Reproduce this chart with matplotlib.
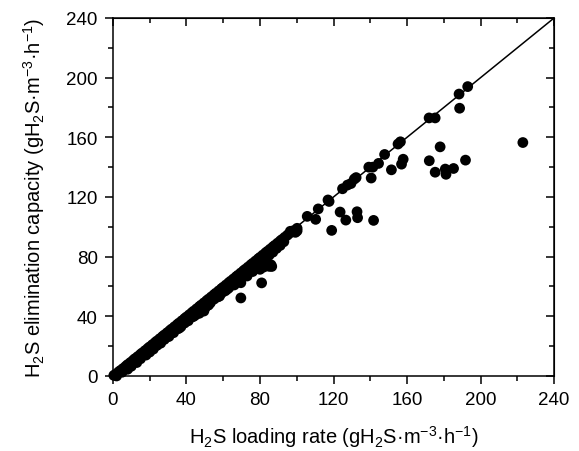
import matplotlib
matplotlib.use("Agg")
import matplotlib.pyplot as plt
from matplotlib.ticker import MultipleLocator

# dense band along the 1:1 line (loading rate, elimination capacity)
band_load = [0.5, 1.5, 3, 4, 5.5, 7, 8, 9.5, 11, 12, 13.5, 15, 16, 17.5, 19, 20,
             21.5, 23, 24, 25.5, 27, 28, 29.5, 31, 32, 33.5, 35, 36, 37.5, 39, 40,
             41.5, 43, 44, 45.5, 47, 48, 49.5, 51, 52, 53.5, 55, 56, 57.5, 59, 60,
             61.5, 63, 64, 65.5, 67, 68, 69.5, 71, 72, 73.5, 75, 76, 77.5, 79, 80,
             81.5, 83, 84, 85.5, 87, 88, 89.5, 91, 92, 93.5, 95, 96.5, 98]
band_ec = [0.4, 1.2, 2.6, 3.6, 5, 6.5, 7.6, 9, 10.5, 11.6, 13, 14.5, 15.5, 17, 18.5, 19.5,
           21, 22.5, 23.5, 25, 26.5, 27.5, 29, 30.5, 31.5, 33, 34.5, 35.5, 37, 38.5, 39.5,
           41, 42.5, 43.5, 45, 46.5, 47.5, 49, 50.5, 51.5, 53, 54.5, 55.5, 57, 58.5, 59.5,
           61, 62.5, 63.5, 65, 66.5, 67.5, 69, 70.5, 71.5, 73, 74.5, 75.5, 77, 78.5, 79.5,
           81, 82.5, 83.5, 85, 86.5, 87.5, 89, 90.5, 91.5, 93, 94.5, 96, 97.3]

# points just under the band
under_load = [2, 5, 8, 10, 13, 15, 18, 20, 22, 24, 26, 28, 30.5, 33, 35, 37, 39, 41, 43,
              45, 47, 49.5, 51, 53, 55, 57, 59, 61, 63, 65, 67, 69, 71, 73, 75, 77, 79,
              81, 83, 85, 87, 89, 91, 93, 47, 50, 30, 36, 58, 62, 73, 76, 80, 82, 84,
              85, 86, 44, 52, 66]
under_ec = [0, 2.5, 4.5, 6.5, 9, 11.5, 14, 16, 18, 20.5, 22, 24.5, 26.5, 29, 31.5, 33,
            35.5, 37, 39.5, 41, 43.5, 43.5, 47, 49, 51.5, 53, 55.5, 57, 59, 61.5, 63, 65,
            67.5, 69, 71, 73, 75, 77, 79, 81, 83, 85.5, 87.5, 90, 42, 45.5, 26.5, 32,
            53.5, 58, 67, 70, 71.5, 73, 75, 73.5, 74.5, 40, 47.5, 61]

# sparse points near the line above ~100
line_load = [100.2, 105.7, 96.5, 111.7, 117, 117.6, 124.9, 127.6, 129.5, 131.3, 132.3,
             139.2, 141.4, 144.5, 147.8, 155.1, 156.4, 172, 175.3, 188.3, 193]
line_ec = [99, 107, 97, 112, 118, 117, 125.5, 128, 129, 132, 133,
           140, 140, 142.5, 148.5, 155.5, 157, 173, 173, 189, 194]

# scattered points well below the line
low_load = [188.6, 178, 191.8, 172.1, 175.3, 180.8, 185.3, 181.2, 157.9, 157, 151.5,
            140.5, 123.6, 126.7, 132.8, 133.1, 141.8, 119, 110.3, 99.3, 80.9, 69.6,
            69.6, 86.4, 81, 223, 100.2]
low_ec = [179.5, 153.6, 144.7, 144.3, 136.6, 138.7, 139.1, 135.2, 145.3, 142, 138.2,
          132.7, 109.9, 104.5, 110.1, 106.1, 104.3, 97.6, 105, 96.3, 62.4, 52.3,
          62.5, 73.4, 73, 156.5, 97.3]

ticks = [0, 40, 80, 120, 160, 200, 240]

plt.rcParams['font.family'] = ['Liberation Sans', 'DejaVu Sans']
plt.rcParams['mathtext.fontset'] = 'custom'
plt.rcParams['mathtext.rm'] = 'Liberation Sans'
plt.rcParams['mathtext.it'] = 'Liberation Sans:italic'
plt.rcParams['mathtext.default'] = 'regular'

fig = plt.figure(figsize=(5.79, 4.52), dpi=100)
ax = fig.add_axes([0.195, 0.166, 0.762, 0.792])

ax.plot([0, 240], [0, 240], color='black', lw=1.1, zorder=2)
for xs, ys in [(band_load, band_ec), (under_load, under_ec),
               (line_load, line_ec), (low_load, low_ec)]:
    ax.scatter(xs, ys, s=60, color='black', edgecolors='none', zorder=3, clip_on=False)

ax.set_xlim(0, 240)
ax.set_ylim(0, 240)
ax.set_xticks(ticks)
ax.set_yticks(ticks)
ax.xaxis.set_minor_locator(MultipleLocator(20))
ax.yaxis.set_minor_locator(MultipleLocator(20))
ax.tick_params(which='both', direction='out', labelsize=13.5, width=1.1)
ax.tick_params(which='major', length=6, pad=5)
ax.tick_params(which='minor', length=3.5)

secx = ax.secondary_xaxis('top')
secx.set_xticks(ticks)
secx.xaxis.set_minor_locator(MultipleLocator(20))
secx.tick_params(which='both', direction='in', labeltop=False, width=1.1)
secx.tick_params(which='major', length=5.5)
secx.tick_params(which='minor', length=3.5)

secy = ax.secondary_yaxis('right')
secy.set_yticks(ticks)
secy.yaxis.set_minor_locator(MultipleLocator(20))
secy.tick_params(which='both', direction='in', labelright=False, width=1.1)
secy.tick_params(which='major', length=5.5)
secy.tick_params(which='minor', length=3.5)

for sp in ax.spines.values():
    sp.set_linewidth(1.1)

ax.set_xlabel("H$_2$S loading rate (gH$_2$S·m$^{-3}$·h$^{-1}$)", fontsize=14.5, labelpad=11)
ax.set_ylabel("H$_2$S elimination capacity (gH$_2$S·m$^{-3}$·h$^{-1}$)", fontsize=14.5, labelpad=14)

fig.savefig("out.png", dpi=100)
